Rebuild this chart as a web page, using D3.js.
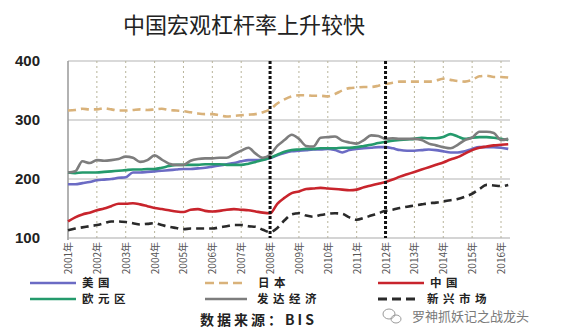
<!DOCTYPE html>
<html>
<head>
<meta charset="utf-8">
<script src="https://cdn.jsdelivr.net/npm/d3@7/dist/d3.min.js"></script>
<style>
  html, body { margin: 0; padding: 0; background: #fff; }
  svg { display: block; }
</style>
</head>
<body>
<svg id="chart" width="563" height="330"></svg>
<script>
// Macro leverage ratios (% of GDP), quarterly from 2001Q1
const years = d3.range(2001, 2017);
const yTicks = [100, 200, 300, 400];
const breakYears = [2008, 2012];
const quarters = d3.range(0, 62).map(i => 2001 + i * 0.25);

const usa = [191,191,193,195, 198,199,200,202, 203,211,211,212, 213,214,215,216,
  217,217,218,219, 221,223,225,227, 230,232,232,233, 235,240,244,247,
  248,249,250,250, 251,249,245,249, 251,252,253,254, 254,252,249,248,
  248,249,250,249, 247,245,245,247, 251,254,254,254, 253,251];
const japan = [316,317,319,318, 318,320,318,316, 316,317,318,317, 318,319,317,316,
  315,313,311,310, 310,308,306,307, 308,309,310,313, 318,328,335,340,
  342,342,341,341, 340,344,350,354, 355,356,356,358, 361,363,365,365,
  365,365,365,367, 370,368,366,365, 368,374,375,373, 373,372];
const china = [128,135,140,143, 147,150,154,158, 158,159,157,154, 151,149,147,145,
  144,148,149,146, 145,146,148,149, 148,147,145,143, 142,158,168,176,
  179,183,184,185, 184,183,182,181, 182,186,189,192, 195,199,204,208,
  212,216,220,224, 228,233,237,243, 249,253,255,257, 258,259];
const euro = [211,210,211,211, 211,212,213,214, 215,216,216,217, 217,219,222,224,
  224,224,224,225, 225,225,224,224, 224,226,229,232, 236,241,246,249,
  250,251,251,252, 252,252,253,253, 254,256,258,261, 263,265,266,267,
  268,270,269,269, 271,276,272,268, 270,271,271,270, 268,266];
const advanced = [211,213,230,227, 232,231,232,234, 238,236,229,232, 240,233,226,224,
  224,231,234,235, 235,236,236,242, 248,253,243,236, 241,256,266,275,
  268,256,255,270, 271,272,265,262, 260,266,274,273, 268,269,268,268,
  268,266,260,257, 254,252,258,266, 270,280,280,278, 266,268];
const emerging = [113,116,118,120, 122,125,128,128, 127,125,123,124, 125,122,119,117,
  115,116,116,116, 116,118,120,122, 122,120,119,114, 110,117,130,140,
  142,138,136,139, 141,142,141,135, 131,134,138,142, 146,148,151,153,
  155,157,159,160, 162,164,166,170, 175,183,190,189, 188,190];

const seriesNames = ["美国", "日本", "中国", "欧元区", "发达经济", "新兴市场"];
const seriesValues = [usa, japan, china, euro, advanced, emerging];
const seriesColors = ["#6b6bc4", "#d9b27a", "#c8242c", "#249a6c", "#7d7d7d", "#2a2a2a"];
const seriesDash = [null, "8,5", null, null, null, "8,5"];

const svg = d3.select("#chart");
const x = d3.scaleLinear().domain([2001, 2016]).range([68, 501]);
const y = d3.scaleLinear().domain([100, 400]).range([238, 61]);
const plotRight = 510;

// Title
svg.append("text")
  .attr("x", 244).attr("y", 33)
  .attr("text-anchor", "middle")
  .attr("font-family", "'Noto Sans CJK SC', sans-serif")
  .attr("font-size", 22)
  .attr("fill", "#222")
  .text("中国宏观杠杆率上升较快");

// Horizontal grid lines
svg.append("g").selectAll("line")
  .data(yTicks.filter(v => v > 100))
  .join("line")
  .attr("x1", x(2001)).attr("x2", plotRight)
  .attr("y1", d => y(d)).attr("y2", d => y(d))
  .attr("stroke", "#b4b4b4").attr("stroke-width", 1.2);

// Yearly dotted grid lines
svg.append("g").selectAll("line")
  .data(years.filter(v => v > 2001 && !breakYears.includes(v)))
  .join("line")
  .attr("x1", d => x(d)).attr("x2", d => x(d))
  .attr("y1", y(400)).attr("y2", y(100))
  .attr("stroke", "#b8b49a").attr("stroke-width", 1)
  .attr("stroke-dasharray", "2,3");

// Axis frame
svg.append("line")
  .attr("x1", x(2001)).attr("x2", x(2001))
  .attr("y1", y(400)).attr("y2", y(100) + 2)
  .attr("stroke", "#999").attr("stroke-width", 1.5);
svg.append("line")
  .attr("x1", x(2001)).attr("x2", plotRight)
  .attr("y1", y(100)).attr("y2", y(100))
  .attr("stroke", "#aaa").attr("stroke-width", 1.2);

// Y axis labels
const yAxis = d3.axisLeft(y).tickValues(yTicks).tickSize(0).tickPadding(0);
const gy = svg.append("g").attr("transform", "translate(40,0)").call(yAxis);
gy.select(".domain").remove();
gy.selectAll("text")
  .attr("font-family", "'Liberation Sans', Arial, sans-serif")
  .attr("font-weight", "bold")
  .attr("font-size", 15)
  .attr("fill", "#222");

// X axis labels (rotated)
const xAxis = d3.axisBottom(x).tickValues(years).tickSize(0).tickFormat(d => d + "年");
const gx = svg.append("g").attr("transform", `translate(0,${y(100)})`).call(xAxis);
gx.select(".domain").remove();
gx.selectAll("text")
  .attr("transform", "rotate(-90)")
  .attr("text-anchor", "end")
  .attr("x", -4).attr("y", 0).attr("dy", "0.35em")
  .attr("font-family", "'Noto Sans CJK SC', sans-serif")
  .attr("font-size", 10)
  .attr("fill", "#555");

// Series lines
const line = d3.line()
  .x((d, i) => x(quarters[i]))
  .y(d => y(d))
  .curve(d3.curveMonotoneX);

const drawOrder = [5, 1, 0, 3, 4, 2];
svg.append("g").selectAll("path")
  .data(drawOrder)
  .join("path")
  .attr("d", k => line(seriesValues[k]))
  .attr("fill", "none")
  .attr("stroke", k => seriesColors[k])
  .attr("stroke-width", 2.6)
  .attr("stroke-linejoin", "round")
  .attr("stroke-dasharray", k => seriesDash[k]);

// Break markers at 2008 and 2012
svg.append("g").selectAll("line")
  .data(breakYears)
  .join("line")
  .attr("x1", d => x(d)).attr("x2", d => x(d))
  .attr("y1", y(400)).attr("y2", y(100))
  .attr("stroke", "#111").attr("stroke-width", 3)
  .attr("stroke-dasharray", "3,2");

// Legend
const legendPos = [[30, 283], [205, 283], [378, 283], [30, 299], [205, 299], [378, 299]];
const lg = svg.append("g").selectAll("g")
  .data(seriesNames.map((n, i) => i))
  .join("g")
  .attr("transform", i => `translate(${legendPos[i][0]},${legendPos[i][1]})`);
lg.append("line")
  .attr("x1", 0).attr("x2", i => (i === 1 || i === 4 || i === 5) ? 42 : 46)
  .attr("y1", 0).attr("y2", 0)
  .attr("stroke", i => seriesColors[i])
  .attr("stroke-width", i => i === 5 ? 3 : 2.6)
  .attr("stroke-dasharray", i => seriesDash[i] ? "9,5" : null);
lg.append("text")
  .attr("x", i => (i === 1 ? 53 : (i === 5 ? 49 : 52)))
  .attr("y", 0).attr("dy", "0.36em")
  .attr("font-family", "'Noto Sans CJK SC', sans-serif")
  .attr("font-weight", "bold")
  .attr("font-size", 11.5)
  .attr("letter-spacing", 4.5)
  .attr("fill", "#222")
  .text(i => seriesNames[i]);

// Source note
svg.append("text")
  .attr("x", 200).attr("y", 320).attr("dy", "0.36em")
  .attr("font-family", "'Noto Sans CJK SC', sans-serif")
  .attr("font-weight", "bold")
  .attr("font-size", 14)
  .attr("letter-spacing", 3)
  .attr("fill", "#222")
  .text("数据来源：BIS");

// Account mark
const mark = svg.append("g").attr("transform", "translate(392,316)").attr("fill", "none").attr("stroke", "#9a9a9a").attr("stroke-width", 1);
mark.append("ellipse").attr("cx", -3).attr("cy", -2).attr("rx", 6).attr("ry", 5);
mark.append("ellipse").attr("cx", 4).attr("cy", 3).attr("rx", 5).attr("ry", 4);
svg.append("text")
  .attr("x", 412).attr("y", 316).attr("dy", "0.36em")
  .attr("font-family", "'Noto Sans CJK SC', sans-serif")
  .attr("font-size", 13)
  .attr("fill", "#7a7a7a")
  .text("罗神抓妖记之战龙头");
</script>
</body>
</html>
